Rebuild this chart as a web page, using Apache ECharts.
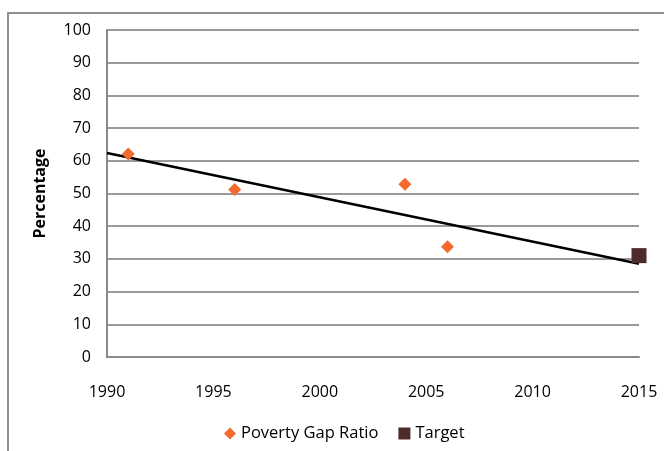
<!DOCTYPE html>
<html>
<head>
<meta charset="utf-8">
<script src="https://cdn.jsdelivr.net/npm/echarts@6/dist/echarts.min.js"></script>
<style>
  html, body { margin: 0; padding: 0; background: #fff; }
  #chart { width: 664px; height: 451px; }
</style>
</head>
<body>
<div id="chart"></div>
<script>
// values
const gapYears = [1991, 1996, 2004, 2006];
const gapValues = [62.1, 51.2, 52.8, 33.7];
const targetYears = [2015];
const targetValues = [31];
// linear trend line drawn in the original, end points
const trendYears = [1990, 2015];
const trendValues = [62.4, 28.5];

const textFont = 'Open Sans';

const myChart = echarts.init(document.getElementById('chart'));

const option = {
  animation: false,
  graphic: [{
    type: 'rect',
    shape: { x: 8, y: 13, width: 700, height: 480 },
    style: { fill: 'none', stroke: '#8f8f8f', lineWidth: 2 },
    silent: true
  }],
  grid: { // plot area as in the picture
    left: 107,
    right: 25,
    top: 30,
    bottom: 94
  },
  legend: {
    data: ['Poverty Gap Ratio', 'Target'],
    bottom: 4,
    left: 219,
    itemGap: 20,
    itemWidth: 12,
    itemHeight: 12,
    textStyle: { fontFamily: textFont, fontSize: 16.5, color: '#000' }
  },
  xAxis: {
    type: 'value',
    min: 1990,
    max: 2015,
    interval: 5,
    axisLine: { show: true, lineStyle: { color: '#8a8a8a', width: 2 } },
    axisTick: { show: false },
    splitLine: { show: false },
    axisLabel: {
      margin: 27,
      fontFamily: textFont,
      fontSize: 16,
      color: '#000',
      formatter: v => String(v)
    }
  },
  yAxis: {
    type: 'value',
    min: 0,
    max: 100,
    interval: 10,
    name: 'Percentage',
    nameLocation: 'middle',
    nameGap: 59,
    nameTextStyle: { fontFamily: textFont, fontSize: 16, fontWeight: 'bold', color: '#000' },
    axisLine: { show: true, lineStyle: { color: '#8a8a8a', width: 2 } },
    axisTick: { show: false },
    splitLine: { show: true, lineStyle: { color: '#9a9a9a', width: 2 } },
    axisLabel: {
      margin: 16,
      fontFamily: textFont,
      fontSize: 16,
      color: '#000'
    }
  },
  series: [
    {
      name: 'Trend',
      type: 'line',
      symbol: 'none',
      lineStyle: { color: '#000', width: 2.5 },
      data: trendYears.map((y, i) => [y, trendValues[i]]),
      z: 3
    },
    {
      name: 'Poverty Gap Ratio',
      type: 'scatter',
      symbol: 'diamond',
      symbolSize: 13,
      itemStyle: { color: '#f26a2e', opacity: 1 },
      data: gapYears.map((y, i) => [y, gapValues[i]]),
      z: 4
    },
    {
      name: 'Target',
      type: 'scatter',
      symbol: 'rect',
      symbolSize: 15,
      itemStyle: { color: '#4e2a2a', opacity: 1 },
      data: targetYears.map((y, i) => [y, targetValues[i]]),
      z: 4
    }
  ]
};
myChart.setOption(option);
</script>
</body>
</html>
